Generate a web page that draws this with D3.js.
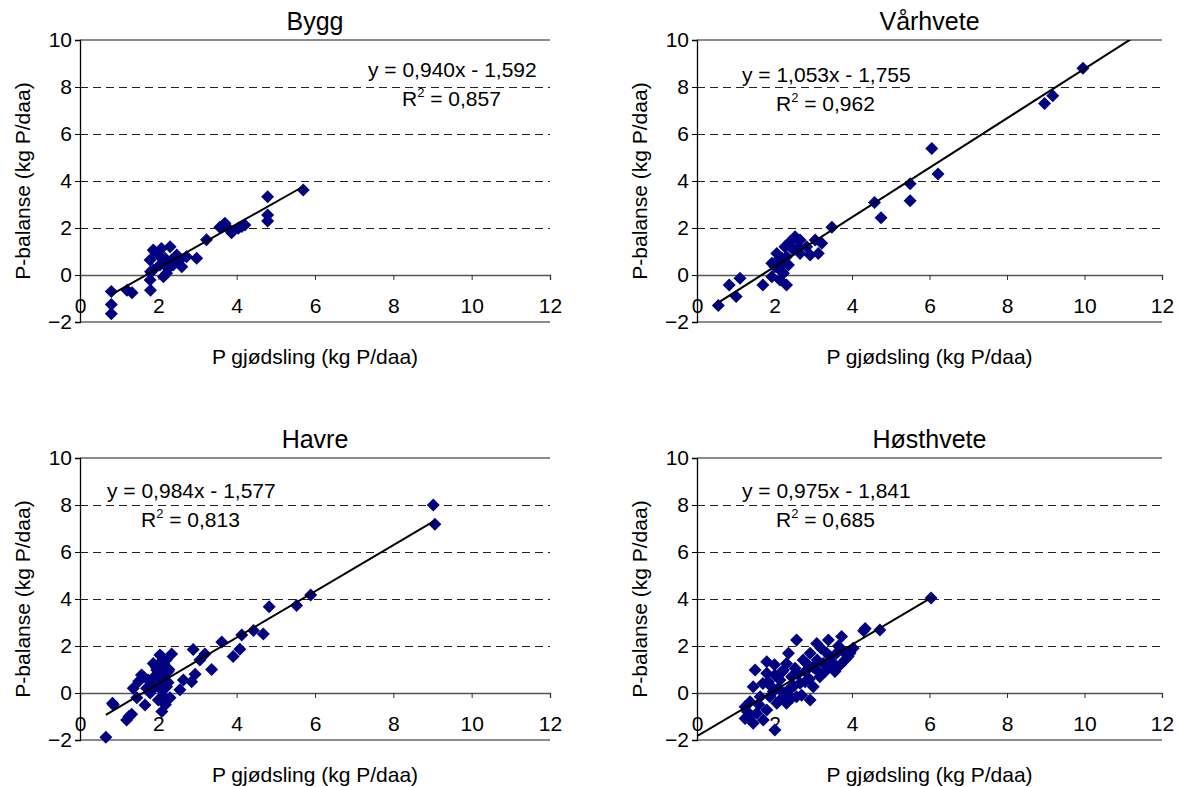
<!DOCTYPE html>
<html>
<head>
<meta charset="utf-8">
<script src="https://cdn.jsdelivr.net/npm/d3@7/dist/d3.min.js"></script>
<style>
  body { margin: 0; background: #fff; }
  svg { font-family: "Liberation Sans", Arial, sans-serif; }
</style>
</head>
<body>
<div id="chart"></div>
<script>
///
/// Data
///
const xTicks = [0, 2, 4, 6, 8, 10, 12];
const yTicks = [-2, 0, 2, 4, 6, 8, 10];
const titles = ["Bygg", "Vårhvete", "Havre", "Høsthvete"];
const equations = ["y = 0,940x - 1,592", "y = 1,053x - 1,755", "y = 0,984x - 1,577", "y = 0,975x - 1,841"];
const r2s = ["0,857", "0,962", "0,813", "0,685"];
const slopes = [0.940, 1.053, 0.984, 0.975];
const intercepts = [-1.592, -1.755, -1.577, -1.841];
const trendFrom = [0.8, 0.55, 0.66, 0];
const trendTo = [5.7, 11.5, 9.06, 6.05];

const byggPts = [
  [0.8,-0.7],[0.8,-1.25],[0.8,-1.65],[1.2,-0.65],[1.33,-0.75],[1.8,-0.65],[1.79,-0.21],
  [1.8,0.14],[1.79,0.64],[1.87,1.06],[1.91,0.99],[1.87,0.21],[2.0,0.85],[2.04,0.43],
  [2.08,1.13],[2.13,-0.07],[2.17,0.71],[2.21,0.07],[2.25,0.28],[2.3,1.2],[2.34,0.64],
  [2.38,0.43],[2.47,0.85],[2.55,0.64],[2.6,0.35],[2.72,0.78],[2.98,0.71],[3.23,1.5],
  [3.57,2.03],[3.66,2.13],[3.7,2.2],[3.83,1.91],[3.87,1.8],[4.04,1.99],[4.13,2.06],
  [4.21,2.13],[4.79,3.33],[4.79,2.55],[4.79,2.3],[5.7,3.62]
];
const varhvetePts = [
  [0.55,-1.3],[0.83,-0.43],[1.01,-0.92],[1.11,-0.14],[1.7,-0.43],[1.93,-0.07],[1.93,0.5],
  [2.01,0.35],[2.06,0.92],[2.06,0.6],[2.14,0.21],[2.14,-0.21],[2.19,0.71],[2.23,0.07],
  [2.23,0.5],[2.27,1.2],[2.31,-0.43],[2.31,0.78],[2.36,0.43],[2.4,1.42],[2.49,1.06],
  [2.53,1.63],[2.61,1.2],[2.66,1.49],[2.66,0.92],[2.83,1.2],[2.92,0.85],[3.05,1.49],
  [3.13,0.92],[3.22,1.35],[3.48,2.03],[4.58,3.08],[4.75,2.44],[5.5,3.88],[5.5,3.16],
  [6.06,5.38],[6.22,4.3],[8.97,7.3],[9.18,7.63],[9.96,8.8]
];
const havrePts = [
  [0.66,-1.88],[0.83,-0.44],[0.85,-0.5],[1.19,-1.15],[1.25,-1.0],[1.32,-0.9],[1.36,0.2],
  [1.45,-0.2],[1.5,0.5],[1.57,0.77],[1.62,0.69],[1.66,-0.51],[1.7,0.2],[1.74,0.55],
  [1.79,0.0],[1.83,0.4],[1.87,1.26],[1.9,0.7],[1.91,0.27],[1.95,1.1],[1.96,0.98],
  [2.0,-0.3],[2.0,0.3],[2.04,1.62],[2.05,0.9],[2.05,1.3],[2.09,0.55],[2.09,1.54],
  [2.09,-0.79],[2.1,0.1],[2.13,-0.16],[2.13,1.26],[2.15,0.6],[2.18,-0.5],[2.2,1.4],
  [2.21,0.27],[2.25,0.91],[2.25,0.45],[2.27,1.0],[2.3,-0.2],[2.34,1.66],[2.55,0.14],
  [2.64,0.55],[2.89,1.85],[2.85,0.48],[2.94,0.8],[3.06,1.4],[3.19,1.66],[3.36,1.0],
  [3.62,2.17],[3.91,1.55],[4.08,1.86],[4.13,2.47],[4.43,2.66],[4.68,2.51],[4.83,3.67],
  [5.53,3.72],[5.89,4.17],[9.02,8.0],[9.06,7.18]
];
const hosthvetePts = [
  [1.24,-0.58],[1.24,-1.08],[1.3,-0.8],[1.37,-1.01],[1.37,-0.37],[1.45,-1.29],[1.45,0.27],
  [1.5,0.98],[1.54,-0.86],[1.6,-0.5],[1.63,-0.16],[1.7,0.4],[1.71,-1.15],[1.8,-0.72],
  [1.8,1.33],[1.8,0.84],[1.84,0.48],[1.88,-0.16],[1.9,0.3],[1.97,0.06],[2.0,1.2],
  [2.01,-1.57],[2.01,0.77],[2.06,-0.44],[2.1,0.2],[2.14,0.55],[2.14,-0.3],[2.2,0.9],
  [2.23,0.98],[2.27,0.0],[2.31,-0.44],[2.31,1.26],[2.36,1.69],[2.4,0.2],[2.44,0.69],
  [2.45,-0.2],[2.5,0.3],[2.53,1.05],[2.57,2.26],[2.57,-0.16],[2.6,0.8],[2.66,0.41],
  [2.7,-0.1],[2.74,1.4],[2.79,0.91],[2.79,0.48],[2.83,1.26],[2.9,0.6],[2.92,1.69],
  [2.92,-0.3],[3.0,0.27],[3.0,1.1],[3.09,2.11],[3.09,0.98],[3.1,1.4],[3.17,0.69],
  [3.2,1.9],[3.26,1.26],[3.3,0.9],[3.35,1.69],[3.39,2.26],[3.43,1.19],[3.43,1.55],
  [3.5,1.3],[3.56,0.91],[3.6,1.69],[3.65,2.0],[3.7,1.2],[3.73,2.4],[3.78,1.76],
  [3.82,1.4],[3.9,1.55],[3.95,1.7],[4.03,1.9],[4.3,2.65],[4.34,2.75],[4.72,2.68],
  [6.04,4.04]
];
const allPts = [byggPts, varhvetePts, havrePts, hosthvetePts];

///
/// Layout
///
const width = 1180, height = 787;
const panels = [
  { left: 80,  right: 550,  top: 40,  bottom: 322, eqX: 368, eqY: 77 },
  { left: 697, right: 1162, top: 40,  bottom: 322, eqX: 742, eqY: 82 },
  { left: 80,  right: 550,  top: 458, bottom: 740, eqX: 107, eqY: 498 },
  { left: 697, right: 1162, top: 458, bottom: 740, eqX: 742, eqY: 498 }
];
const FS = 21;

const svg = d3.select("#chart").append("svg")
  .attr("width", width)
  .attr("height", height);

const diamond = (cx, cy, r) =>
  `M${cx},${cy - r}L${cx + r},${cy}L${cx},${cy + r}L${cx - r},${cy}Z`;

panels.forEach((p, i) => {
  const x = d3.scaleLinear().domain([0, 12]).range([p.left, p.right]);
  const y = d3.scaleLinear().domain([-2, 10]).range([p.bottom, p.top]);
  const g = svg.append("g");
  const cx = (p.left + p.right) / 2;

  // dashed grid
  g.selectAll(".grid").data([2, 4, 6, 8]).join("line")
    .attr("x1", p.left).attr("x2", p.right)
    .attr("y1", d => Math.round(y(d)) + 0.5).attr("y2", d => Math.round(y(d)) + 0.5)
    .attr("stroke", "#222").attr("stroke-width", 1)
    .attr("stroke-dasharray", "8,5");

  // top/bottom plot border
  [10, -2].forEach(v => {
    g.append("line")
      .attr("x1", p.left).attr("x2", p.right)
      .attr("y1", y(v)).attr("y2", y(v))
      .attr("stroke", "#8c8c8c").attr("stroke-width", 2);
  });

  // x axis at y = 0
  const xAxis = d3.axisBottom(x).tickValues(xTicks).tickSize(5).tickFormat(d3.format("d"));
  const xa = g.append("g").attr("transform", `translate(0,${y(0)})`).call(xAxis);
  xa.select(".domain").attr("stroke", "#555").attr("stroke-width", 1.3);
  xa.selectAll(".tick line").attr("stroke", "#333");
  xa.selectAll(".tick text")
    .attr("font-size", FS).attr("font-family", "Liberation Sans, Arial, sans-serif")
    .attr("fill", "#000").attr("y", 38).attr("dy", null);

  // y axis
  const yAxis = d3.axisLeft(y).tickValues(yTicks).tickSize(5).tickFormat(d3.format("d"));
  const ya = g.append("g").attr("transform", `translate(${p.left},0)`).call(yAxis);
  ya.select(".domain").attr("stroke", "#000").attr("stroke-width", 1.3);
  ya.selectAll(".tick line").attr("stroke", "#000");
  ya.selectAll(".tick text")
    .attr("font-size", FS).attr("font-family", "Liberation Sans, Arial, sans-serif")
    .attr("fill", "#000").attr("x", -8);

  // points
  g.selectAll(".pt").data(allPts[i]).join("path")
    .attr("d", d => diamond(x(d[0]), y(d[1]), 6.5))
    .attr("fill", "#000080");

  // trend line, clipped to the plot
  const clipId = "clip" + i;
  svg.append("clipPath").attr("id", clipId).append("rect")
    .attr("x", p.left).attr("y", p.top)
    .attr("width", p.right - p.left).attr("height", p.bottom - p.top);
  const t0 = trendFrom[i], t1 = trendTo[i];
  g.append("line")
    .attr("clip-path", `url(#${clipId})`)
    .attr("x1", x(t0)).attr("y1", y(slopes[i] * t0 + intercepts[i]))
    .attr("x2", x(t1)).attr("y2", y(slopes[i] * t1 + intercepts[i]))
    .attr("stroke", "#000").attr("stroke-width", 2);

  // equation labels
  g.append("text")
    .attr("x", p.eqX).attr("y", p.eqY)
    .attr("font-size", FS)
    .text(equations[i]);
  const r2 = g.append("text")
    .attr("x", p.eqX + 34).attr("y", p.eqY + 29)
    .attr("font-size", FS);
  r2.append("tspan").text("R");
  r2.append("tspan").attr("font-size", 13).attr("dy", -9).text("2");
  r2.append("tspan").attr("dy", 9).text(" = " + r2s[i]);

  // title
  g.append("text")
    .attr("x", cx).attr("y", p.top - 10)
    .attr("text-anchor", "middle")
    .attr("font-size", 25)
    .text(titles[i]);

  // axis titles
  g.append("text")
    .attr("x", cx).attr("y", p.bottom + 42)
    .attr("text-anchor", "middle")
    .attr("font-size", FS)
    .text("P gjødsling (kg P/daa)");
  g.append("text")
    .attr("transform", `translate(${p.left - 50},${(p.top + p.bottom) / 2}) rotate(-90)`)
    .attr("text-anchor", "middle")
    .attr("font-size", FS)
    .text("P-balanse (kg P/daa)");
});
</script>
</body>
</html>
